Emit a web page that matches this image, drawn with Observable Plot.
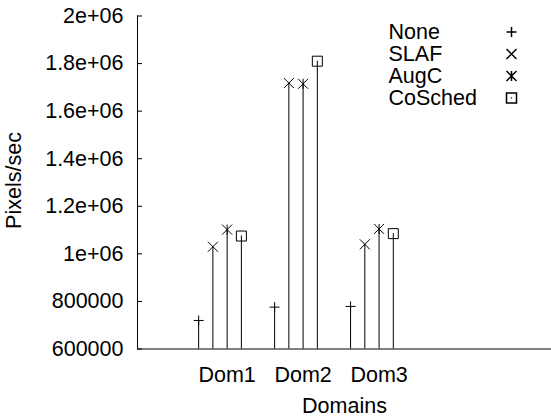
<!DOCTYPE html>
<html><head><meta charset="utf-8">
<script src="https://cdn.jsdelivr.net/npm/d3@7"></script>
<script src="https://cdn.jsdelivr.net/npm/@observablehq/plot@0.6"></script>
<style>body{margin:0;background:#fff}</style>
</head><body><div id="chart"></div>
<script>
const domains = ["Dom1", "Dom2", "Dom3"];
const seriesNames = ["None", "SLAF", "AugC", "CoSched"];
const noneValues = [720000, 776000, 779000];
const slafValues = [1030000, 1718000, 1040000];
const augcValues = [1102000, 1715000, 1105000];
const coschedValues = [1075000, 1810000, 1085000];
const yTicks = [600000, 800000, 1000000, 1200000, 1400000, 1600000, 1800000, 2000000];
const yTickLabels = ["600000", "800000", "1e+06", "1.2e+06", "1.4e+06", "1.6e+06", "1.8e+06", "2e+06"];
const yDomain = [600000, 2000000];
const xDomain = [-0.18, 5.27];

const seriesValues = [noneValues, slafValues, augcValues, coschedValues];
const offsets = [-0.375, -0.1875, 0, 0.1875];

// gnuplot-like point types
const rad = size => Math.sqrt(size / Math.PI);
const plusSym = {draw(c, s) { const r = rad(s); c.moveTo(-r, 0); c.lineTo(r, 0); c.moveTo(0, -r); c.lineTo(0, r); }};
const timesSym = {draw(c, s) { const r = rad(s); c.moveTo(-r, -r); c.lineTo(r, r); c.moveTo(-r, r); c.lineTo(r, -r); }};
const starSym = {draw(c, s) { const r = rad(s); c.moveTo(0, -r); c.lineTo(0, r); c.moveTo(-r, -r); c.lineTo(r, r); c.moveTo(-r, r); c.lineTo(r, -r); }};
const boxSym = {draw(c, s) { const r = rad(s); c.moveTo(-r, -r); c.lineTo(r, -r); c.lineTo(r, r); c.lineTo(-r, r); c.closePath(); }};
const symbols = [plusSym, timesSym, starSym, boxSym];
const radii = [5, 5, 5, 5];

const rows = [];
seriesNames.forEach((s, si) => domains.forEach((d, di) =>
  rows.push({series: s, si, domain: d, x: di + 1 + offsets[si], value: seriesValues[si][di]})));

const FS = 21.5;
const W = 551, H = 417, ML = 137, MT = 15.5, MB = 68.5, MR = 0;
const marks = [
  Plot.ruleY([yDomain[0]], {stroke: "black"}),
  Plot.ruleX([xDomain[0]], {y1: yDomain[0], y2: yDomain[1], stroke: "black"}),
  Plot.tickY(yTicks, {y: d => d, stroke: "black", insetRight: (W - ML - MR) - 5}),
  Plot.axisY(yTicks, {tickSize: 0, tickPadding: 14, tickFormat: d => yTickLabels[yTicks.indexOf(d)], label: null, fontSize: FS, fill: "black"}),
  Plot.axisX(domains.map((d, i) => i + 1), {tickSize: 0, tickPadding: 17.5, tickFormat: v => domains[v - 1], label: null, fontSize: FS, fill: "black"}),
  Plot.ruleX(rows, {x: "x", y1: yDomain[0], y2: "value", stroke: "black", strokeWidth: 1})
];
seriesNames.forEach((s, si) => {
  marks.push(Plot.dot(rows.filter(r => r.si === si), {x: "x", y: "value", symbol: symbols[si], r: radii[si], stroke: "black", fill: "none", strokeWidth: 1}));
  marks.push(Plot.text([s], {frameAnchor: "top-left", dx: 251, dy: 16 + 22 * si, text: d => d, textAnchor: "start", lineAnchor: "middle", fontSize: FS, fill: "black"}));
  marks.push(Plot.dot([s], {frameAnchor: "top-left", dx: 374, dy: 16 + 22 * si, symbol: symbols[si], r: radii[si], stroke: "black", fill: "none"}));
});
marks.push(Plot.dot(["CoSched"], {frameAnchor: "top-left", dx: 374, dy: 16 + 22 * 3, r: 0.7, fill: "black", stroke: "none"}));
marks.push(Plot.text(["Domains"], {frameAnchor: "bottom", dy: 57.5, text: d => d, textAnchor: "middle", lineAnchor: "middle", fontSize: FS, fill: "black"}));
marks.push(Plot.text(["Pixels/sec"], {frameAnchor: "left", dx: -123, dy: -2, rotate: -90, text: d => d, textAnchor: "middle", lineAnchor: "middle", fontSize: FS, fill: "black"}));

const chart = Plot.plot({
  width: W, height: H,
  marginLeft: ML, marginTop: MT, marginBottom: MB, marginRight: MR,
  style: {fontFamily: "'Liberation Sans', Arial, sans-serif", fontSize: FS + "px", background: "white", color: "black"},
  x: {type: "linear", domain: xDomain, axis: null},
  y: {type: "linear", domain: yDomain, axis: null},
  marks
});
document.getElementById("chart").appendChild(chart);
</script>
</body></html>
